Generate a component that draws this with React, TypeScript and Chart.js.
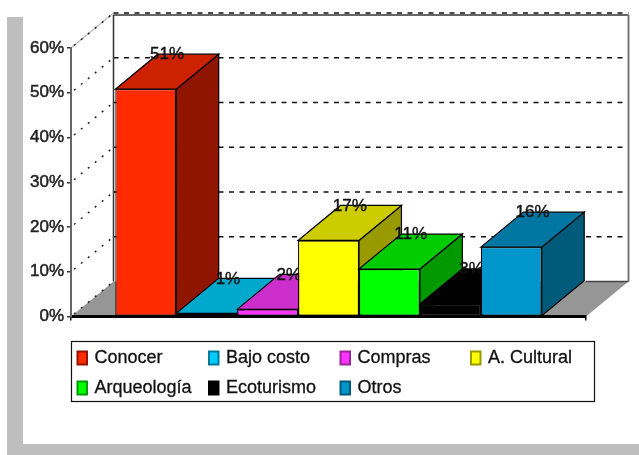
import React, { useEffect, useRef } from "react";
import { Chart, registerables } from "chart.js";

Chart.register(...registerables);

const categories = ["Conocer", "Bajo costo", "Compras", "A. Cultural", "Arqueología", "Ecoturismo", "Otros"];
const values = [50.8, 0.7, 1.6, 17, 10.6, 2.8, 15.5];
const frontColors = ["#FF2B00", "#00CCFF", "#FF33FF", "#FFFF00", "#00FF00", "#000000", "#0096CC"];
const topColors = ["#CC2200", "#00A8CC", "#CC2ECC", "#CCCC00", "#00CC00", "#000000", "#0077A3"];
const sideColors = ["#8F1500", "#007A99", "#992699", "#999900", "#009900", "#000000", "#005A7A"];
const legendColumns = [76.5, 208, 339.5, 470];
const legendRows = [358, 388];

const FONT = '"Liberation Sans", Arial, sans-serif';
const DX = 42.5;
const DY = 35;

function poly(ctx: CanvasRenderingContext2D, pts: number[][], fill: string, stroke?: string, lw = 1) {
  ctx.beginPath();
  pts.forEach(([x, y], i) => (i ? ctx.lineTo(x, y) : ctx.moveTo(x, y)));
  ctx.closePath();
  ctx.fillStyle = fill;
  ctx.fill();
  if (stroke) {
    ctx.strokeStyle = stroke;
    ctx.lineWidth = lw;
    ctx.stroke();
  }
}

function line(ctx: CanvasRenderingContext2D, x1: number, y1: number, x2: number, y2: number, color: string, lw: number, dash: number[] = []) {
  ctx.beginPath();
  ctx.setLineDash(dash);
  ctx.moveTo(x1, y1);
  ctx.lineTo(x2, y2);
  ctx.strokeStyle = color;
  ctx.lineWidth = lw;
  ctx.stroke();
  ctx.setLineDash([]);
}

function heavyText(ctx: CanvasRenderingContext2D, s: string, x: number, y: number, weight: number) {
  ctx.fillStyle = "#111";
  ctx.strokeStyle = "#111";
  ctx.lineWidth = weight;
  ctx.fillText(s, x, y);
  ctx.strokeText(s, x, y);
}

const scene3d = {
  id: "scene3d",
  beforeDraw(chart: any) {
    const { ctx, width, height, scales } = chart;
    const xs = scales.x;
    const ys = scales.y;
    ctx.save();
    ctx.fillStyle = "#FFFFFF";
    ctx.fillRect(0, 0, width, height);
    ctx.fillStyle = "#BEBEBE";
    ctx.fillRect(7, 17, 16, height - 17);
    ctx.fillRect(7, 444, width - 7, 11);

    const L = xs.left;
    const R = xs.right;
    const y0 = ys.getPixelForValue(0);
    // floor
    poly(ctx, [[L, y0], [L + DX, y0 - DY], [R + DX, y0 - DY], [R, y0]], "#969696");
    line(ctx, R + DX - 43, y0 - DY, R + DX, y0 - DY, "#444", 1.5);
    // side wall dotted lines and back wall dashed grid
    ys.ticks.forEach((t: any) => {
      const y = ys.getPixelForValue(t.value);
      if (t.value === 60) line(ctx, L, y, L + DX, y - DY, "#BBBBBB", 1.2);
      line(ctx, L + 3, y - 2.5, L + DX, y - DY, "#222", 1.5, [2, 7]);
      if (t.value > 0) line(ctx, L + DX, y - DY, R + DX, y - DY, "#111", 1.4, [5, 5.5]);
    });
    // back wall frame
    const wallTop = ys.getPixelForValue(60) - DY + 2;
    line(ctx, L + DX, wallTop, L + DX, y0 - DY, "#333", 1.5);
    line(ctx, L + DX, wallTop, R + DX, wallTop, "#333", 1.5);
    line(ctx, R + DX, wallTop, R + DX, y0 - DY, "#777", 2);
    ctx.restore();
  },
  beforeDatasetsDraw(chart: any) {
    const { ctx } = chart;
    ctx.save();
    chart.data.datasets.forEach((ds: any, i: number) => {
      const el = chart.getDatasetMeta(i).data[0];
      const { x, y, base, width } = el.getProps(["x", "y", "base", "width"], true);
      const l = x - width / 2;
      const r = x + width / 2;
      const edge = ds.borderColor;
      poly(ctx, [[r, y], [r + DX, y - DY], [r + DX, base - DY], [r, base]], sideColors[i], edge, 1.2);
      poly(ctx, [[l, y], [l + DX, y - DY], [r + DX, y - DY], [r, y]], topColors[i], edge, 1.2);
      el.draw(ctx);
      ctx.font = `17px ${FONT}`;
      ctx.textAlign = "center";
      ctx.textBaseline = "middle";
      heavyText(ctx, `${Math.round(ds.data[0])}%`, x + DX / 2, y - DY + 0.5, 0.4);
    });
    ctx.restore();
    return false;
  },
  afterDraw(chart: any) {
    const { ctx } = chart;
    ctx.save();
    ctx.fillStyle = "#FFFFFF";
    ctx.fillRect(71.5, 341.5, 523, 60);
    ctx.strokeStyle = "#111";
    ctx.lineWidth = 1.2;
    ctx.strokeRect(71.5, 341.5, 523, 60);
    ctx.font = `18px ${FONT}`;
    ctx.textAlign = "left";
    ctx.textBaseline = "middle";
    categories.forEach((c, i) => {
      const cx = legendColumns[i % 4];
      const cy = legendRows[Math.floor(i / 4)];
      ctx.fillStyle = frontColors[i];
      ctx.fillRect(cx + 1, cy - 6.5, 9.5, 13);
      ctx.strokeStyle = i === 5 ? "#000" : sideColors[i];
      ctx.lineWidth = 2;
      ctx.strokeRect(cx + 1, cy - 6.5, 9.5, 13);
      heavyText(ctx, c, cx + 18, cy + 0.5, 0.3);
    });
    ctx.restore();
  },
};

export default function App() {
  const ref = useRef<HTMLCanvasElement>(null);
  useEffect(() => {
    const chart = new Chart(ref.current!, {
      type: "bar",
      data: {
        labels: [""],
        datasets: categories.map((c, i) => ({
          label: c,
          data: [values[i]],
          backgroundColor: frontColors[i],
          borderColor: "#000000",
          borderWidth: 1.2,
          borderSkipped: false,
        })),
      },
      options: {
        responsive: false,
        animation: false,
        barPercentage: 1,
        categoryPercentage: 0.828,
        layout: { padding: { left: 0, right: 53, top: 48, bottom: 134.5 } },
        plugins: { legend: { display: false }, tooltip: { enabled: false }, title: { display: false } },
        scales: {
          x: {
            z: 1,
            ticks: { display: false },
            grid: { drawOnChartArea: false, drawTicks: true, tickLength: 4, color: "#111", lineWidth: 1.5 },
            border: { color: "#000000", width: 3 },
            afterFit: (s: any) => { s.height = 4; },
          },
          y: {
            min: 0,
            max: 60,
            ticks: {
              stepSize: 10,
              padding: 3,
              color: "#222",
              textStrokeColor: "#222",
              textStrokeWidth: 0.5,
              font: { family: FONT, size: 17 },
              callback: (v: any) => `${v}%`,
            },
            grid: { drawOnChartArea: false, drawTicks: true, tickLength: 4, color: "#333", lineWidth: 1.5 },
            border: { color: "#666666", width: 2 },
            afterFit: (s: any) => { s.width = 71; },
          },
        },
      },
      plugins: [scene3d],
    } as any);
    return () => chart.destroy();
  }, []);
  return (
    <div style={{ position: "fixed", left: 0, top: 0, width: 639, height: 455 }}>
      <canvas ref={ref} width={639} height={455} style={{ display: "block" }} />
    </div>
  );
}
